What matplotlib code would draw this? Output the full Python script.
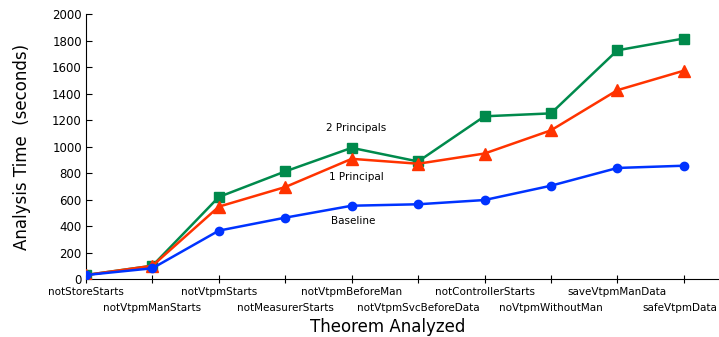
import matplotlib
matplotlib.use("Agg")
import matplotlib.pyplot as plt
import matplotlib.transforms as mtransforms

theorems = ["notStoreStarts", "notVtpmManStarts", "notVtpmStarts", "notMeasurerStarts",
            "notVtpmBeforeMan", "notVtpmSvcBeforeData", "notControllerStarts",
            "noVtpmWithoutMan", "saveVtpmManData", "safeVtpmData"]
baseline = [30, 81, 365, 463, 553, 564, 596, 704, 838, 855]
one_principal = [30, 100, 546, 694, 907, 870, 947, 1122, 1425, 1572]
two_principals = [30, 100, 619, 812, 990, 887, 1228, 1250, 1726, 1815]

yticks = [0, 200, 400, 600, 800, 1000, 1200, 1400, 1600, 1800, 2000]

fig = plt.figure(figsize=(7.19, 3.37), dpi=100)
ax = fig.add_axes([86/719, 1-279/337, 1-86/719, (279-14)/337])

x = list(range(len(theorems)))
ax.plot(x, two_principals, color="#008a4c", lw=1.8, marker="s", ms=7, zorder=3)
ax.plot(x, one_principal, color="#ff3300", lw=1.8, marker="^", ms=8, zorder=3)
ax.plot(x, baseline, color="#0033ff", lw=1.8, marker="o", ms=6, zorder=3)

ax.text(4.07, 1140, "2 Principals", fontsize=7.5, ha="center", va="center")
ax.text(4.07, 772, "1 Principal", fontsize=7.5, ha="center", va="center")
ax.text(4.03, 440, "Baseline", fontsize=7.5, ha="center", va="center")

ax.set_xlim(0, 9.53)
ax.set_ylim(0, 2000)
ax.set_yticks(yticks)
even = x[0::2]
odd = x[1::2]
ax.set_xticks(even)
ax.set_xticklabels(theorems[0::2], fontsize=7.5)
ax.set_xticks(odd, minor=True)
ax.set_xticklabels(theorems[1::2], minor=True, fontsize=7.5)
ax.tick_params(axis="y", direction="in", length=4, labelsize=8.5, pad=3)
ax.tick_params(axis="x", which="major", direction="inout", length=6, width=0.8, pad=3)
ax.tick_params(axis="x", which="minor", direction="inout", length=6, width=0.8, pad=14.5)
for s in ["top", "right"]:
    ax.spines[s].set_visible(False)

# last label slightly shifted left as in reference
lbl = ax.get_xticklabels(minor=True)[-1]
lbl.set_transform(lbl.get_transform() + mtransforms.ScaledTranslation(-4/100, 0, fig.dpi_scale_trans))

ax.set_xlabel("Theorem Analyzed", fontsize=12, labelpad=1)
ax.xaxis.set_label_coords((388-86)/633, -39/265)
ax.set_ylabel("Analysis Time  (seconds)", fontsize=12)
ax.yaxis.set_label_coords(-(86-31)/633, 0.5)

fig.savefig("out.png", dpi=100)
